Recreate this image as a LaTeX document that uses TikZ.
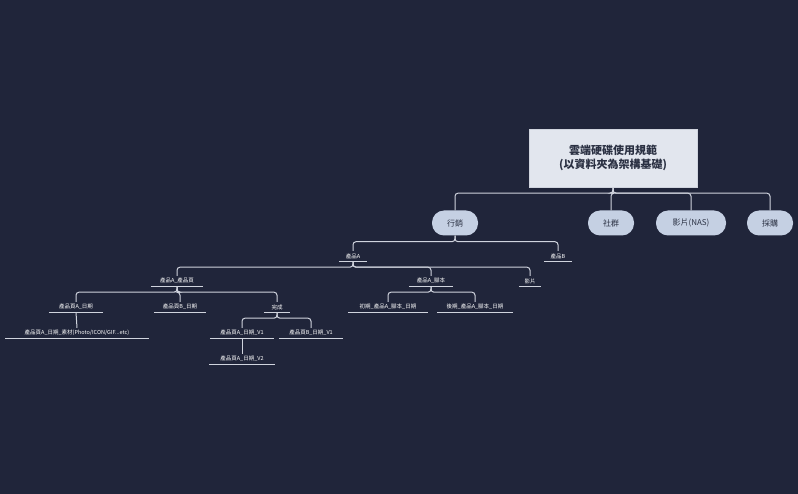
\documentclass[tikz,border=0pt]{standalone}
\usepackage{fontspec}
\newfontfamily\cjk{Noto Sans CJK TC}
\begin{document}
\begin{tikzpicture}[x=1pt,y=-1pt,
  conn/.style={draw=linec,line width=1pt,rounded corners=3pt},
  leaf/.style={font=\cjk\fontsize{5.5}{6}\selectfont,text=white,inner sep=1.5pt,minimum height=10pt},
  ul/.style={draw=linec,line width=1pt},
  pill/.style={fill=pillc,rounded corners=12pt,minimum height=25pt,font=\cjk\fontsize{8}{9}\selectfont,text=darkt,inner sep=2pt}]
\definecolor{bg}{HTML}{20253A}
\definecolor{linec}{HTML}{D0D4DE}
\definecolor{pillc}{HTML}{C5D0E3}
\definecolor{boxc}{HTML}{E2E6EE}
\definecolor{darkt}{HTML}{2A3042}
\fill[bg] (0,0) rectangle (798,494);
\useasboundingbox (0,0) rectangle (798,494);
\node[fill=boxc,draw=linec,minimum width=168pt,minimum height=58pt,font=\cjk\bfseries\fontsize{11}{14}\selectfont,text=darkt,align=center] (root) at (613,158) {雲端硬碟使用規範\\(以資料夾為架構基礎)};
\node[pill,minimum width=46pt] (mk) at (455,223) {行銷};
\node[pill,minimum width=46pt] (sq) at (611,223) {社群};
\node[pill,minimum width=70pt] (vd) at (691,223) {影片(NAS)};
\node[pill,minimum width=46pt] (cg) at (770,223) {採購};
\draw[conn] (root.south) -- ++(0,6) -| (mk.north);
\draw[conn] (root.south) -- ++(0,6) -| (cg.north);
\draw[conn] (root.south) -- ++(0,6) -| (sq.north);
\draw[conn] (root.south) -- ++(0,6) -| (vd.north);
% leaves
\foreach \n/\x/\y/\w/\t in {
 pa/353/256/27/產品A, pb/558/256/27/產品B,
 pap/177/281/52/產品A\_產品頁, pas/431/281/44/產品A\_腳本, pv/530/281/22/影片,
 d1/76/307/54/產品頁A\_日期, d2/180/307/51/產品頁B\_日期, ok/277/307/26/完成,
 s1/388/307/80/初期\_產品A\_腳本\_日期, s2/475/307/76/後期\_產品A\_腳本\_日期,
 v1/242/333/64/產品頁A\_日期\_V1, v3/311/333/63/產品頁B\_日期\_V1,
 v2/242/359/65/產品頁A\_日期\_V2}{
 \node[leaf,minimum width=\w pt] (\n) at (\x,\y) {\t};
 \draw[ul] (\n.south west) -- (\n.south east);
}
\node[leaf,minimum width=143pt] (m1) at (77,333) {產品頁A\_日期\_素材(Photo/ICON/GIF...etc)};
\draw[ul] (m1.south west) -- (m1.south east);
\foreach \p/\c in {mk/pa,mk/pb,pa/pap,pa/pas,pa/pv,pap/d1,pap/d2,pap/ok,pas/s1,pas/s2,ok/v1,ok/v3}
 \draw[conn] (\p.south) -- ++(0,6) -| (\c.north);
\draw[conn] (d1.south) -- (m1.north);
\draw[conn] (v1.south) -- (v2.north);
\end{tikzpicture}
\end{document}
